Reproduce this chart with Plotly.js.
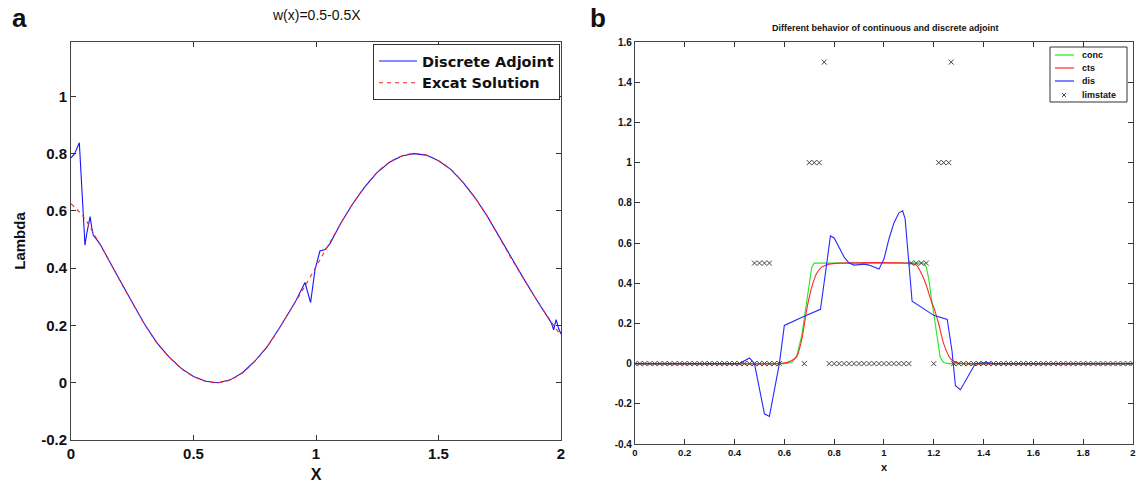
<!DOCTYPE html>
<html>
<head>
<meta charset="utf-8">
<script src="https://cdn.plot.ly/plotly-3.0.1.min.js"></script>
<style>html,body{margin:0;padding:0;background:#fff;}#plot{width:1136px;height:483px;}</style>
</head>
<body>
<div id="plot"></div>
<script>
// ---- Panel a: w(x)=0.5-0.5X ----
const discreteX = [0, 0.015, 0.034, 0.041, 0.046, 0.05, 0.053, 0.057, 0.064, 0.078, 0.084, 0.091, 0.105, 0.118, 0.15, 0.2, 0.25, 0.3, 0.35, 0.4, 0.45, 0.5, 0.55, 0.6, 0.65, 0.7, 0.75, 0.8, 0.85, 0.9, 0.92, 0.955, 0.978, 0.996, 1.016, 1.037, 1.057, 1.1, 1.15, 1.2, 1.25, 1.3, 1.35, 1.4, 1.45, 1.5, 1.55, 1.6, 1.65, 1.7, 1.75, 1.8, 1.85, 1.9, 1.95, 1.96, 1.97, 1.98, 1.99, 2.0];
const discreteY = [0.785, 0.80, 0.838, 0.73, 0.655, 0.58, 0.52, 0.48, 0.52, 0.58, 0.545, 0.515, 0.50, 0.485, 0.435, 0.355, 0.28, 0.205, 0.14, 0.09, 0.05, 0.022, 0.005, 0.0, 0.01, 0.035, 0.075, 0.125, 0.19, 0.26, 0.29, 0.35, 0.28, 0.395, 0.46, 0.465, 0.486, 0.555, 0.625, 0.685, 0.735, 0.77, 0.792, 0.80, 0.795, 0.775, 0.745, 0.70, 0.645, 0.58, 0.505, 0.43, 0.36, 0.29, 0.225, 0.21, 0.185, 0.22, 0.19, 0.17];
const exactX = [0, 0.05, 0.1, 0.15, 0.2, 0.25, 0.3, 0.35, 0.4, 0.45, 0.5, 0.55, 0.6, 0.65, 0.7, 0.75, 0.8, 0.85, 0.9, 0.95, 1.0, 1.05, 1.1, 1.15, 1.2, 1.25, 1.3, 1.35, 1.4, 1.45, 1.5, 1.55, 1.6, 1.65, 1.7, 1.75, 1.8, 1.85, 1.9, 1.95, 2.0];
const exactY = [0.625, 0.58, 0.51, 0.435, 0.355, 0.28, 0.205, 0.14, 0.09, 0.05, 0.022, 0.005, 0.0, 0.01, 0.035, 0.075, 0.125, 0.19, 0.26, 0.33, 0.405, 0.48, 0.555, 0.625, 0.685, 0.735, 0.77, 0.792, 0.80, 0.795, 0.775, 0.745, 0.70, 0.645, 0.58, 0.505, 0.43, 0.36, 0.29, 0.225, 0.165];
const aXTicks = [0, 0.5, 1, 1.5, 2];
const aXTickText = ['0', '0.5', '1', '1.5', '2'];
const aYTicks = [-0.2, 0, 0.2, 0.4, 0.6, 0.8, 1];
const aYTickText = ['-0.2', '0', '0.2', '0.4', '0.6', '0.8', '1'];

// ---- Panel b: continuous vs discrete adjoint ----
const concX = [0, 0.60, 0.63, 0.65, 0.67, 0.69, 0.70, 0.71, 0.72, 1.16, 1.17, 1.18, 1.19, 1.20, 1.213, 1.226, 1.24, 1.26, 2.0];
const concY = [0, 0, 0.005, 0.04, 0.14, 0.31, 0.42, 0.48, 0.50, 0.50, 0.48, 0.42, 0.33, 0.247, 0.147, 0.03, 0.005, 0, 0];
const ctsX = [0, 0.58, 0.61, 0.63, 0.65, 0.67, 0.69, 0.71, 0.73, 0.75, 0.78, 0.82, 1.10, 1.13, 1.15, 1.17, 1.19, 1.20, 1.22, 1.24, 1.267, 1.29, 1.32, 2.0];
const ctsY = [0, 0, 0.005, 0.015, 0.035, 0.12, 0.27, 0.38, 0.45, 0.48, 0.495, 0.50, 0.50, 0.49, 0.45, 0.39, 0.31, 0.28, 0.197, 0.098, 0.025, 0.005, 0, 0];
const disX = [0, 0.42, 0.46, 0.48, 0.52, 0.54, 0.58, 0.60, 0.68, 0.745, 0.765, 0.785, 0.80, 0.82, 0.84, 0.86, 0.88, 0.92, 0.94, 0.98, 1.00, 1.02, 1.04, 1.06, 1.075, 1.085, 1.10, 1.113, 1.20, 1.254, 1.273, 1.287, 1.307, 1.334, 1.367, 1.414, 1.44, 2.0];
const disY = [0, 0, 0.028, 0, -0.25, -0.263, 0, 0.19, 0.235, 0.27, 0.45, 0.635, 0.625, 0.58, 0.53, 0.50, 0.49, 0.495, 0.49, 0.47, 0.52, 0.62, 0.70, 0.75, 0.76, 0.72, 0.50, 0.31, 0.24, 0.22, 0.065, -0.11, -0.13, -0.068, 0, 0.005, 0, 0];
const limX = [0, 0.02, 0.04, 0.06, 0.08, 0.10, 0.12, 0.14, 0.16, 0.18, 0.20, 0.22, 0.24, 0.26, 0.28, 0.30, 0.32, 0.34, 0.36, 0.38, 0.40, 0.42, 0.44, 0.46, 0.48, 0.50, 0.52, 0.54, 0.56, 0.58,
  0.68,
  0.78, 0.80, 0.82, 0.84, 0.86, 0.88, 0.90, 0.92, 0.94, 0.96, 0.98, 1.00, 1.02, 1.04, 1.06, 1.08, 1.10,
  1.20,
  1.28, 1.30, 1.32, 1.34, 1.36, 1.38, 1.40, 1.42, 1.44, 1.46, 1.48, 1.50, 1.52, 1.54, 1.56, 1.58, 1.60, 1.62, 1.64, 1.66, 1.68, 1.70, 1.72, 1.74, 1.76, 1.78, 1.80, 1.82, 1.84, 1.86, 1.88, 1.90, 1.92, 1.94, 1.96, 1.98, 2.00,
  0.48, 0.50, 0.52, 0.54,
  1.11, 1.13, 1.15, 1.17,
  0.70, 0.72, 0.74,
  1.22, 1.24, 1.26,
  0.76, 1.27];
const limY = [0, 0, 0, 0, 0, 0, 0, 0, 0, 0, 0, 0, 0, 0, 0, 0, 0, 0, 0, 0, 0, 0, 0, 0, 0, 0, 0, 0, 0, 0,
  0,
  0, 0, 0, 0, 0, 0, 0, 0, 0, 0, 0, 0, 0, 0, 0, 0, 0,
  0,
  0, 0, 0, 0, 0, 0, 0, 0, 0, 0, 0, 0, 0, 0, 0, 0, 0, 0, 0, 0, 0, 0, 0, 0, 0, 0, 0, 0, 0, 0, 0, 0, 0, 0, 0, 0, 0,
  0.5, 0.5, 0.5, 0.5,
  0.5, 0.5, 0.5, 0.5,
  1, 1, 1,
  1, 1, 1,
  1.5, 1.5];
const bXTicks = [0, 0.2, 0.4, 0.6, 0.8, 1, 1.2, 1.4, 1.6, 1.8, 2];
const bXTickText = ['0', '0.2', '0.4', '0.6', '0.8', '1', '1.2', '1.4', '1.6', '1.8', '2'];
const bYTicks = [-0.4, -0.2, 0, 0.2, 0.4, 0.6, 0.8, 1, 1.2, 1.4, 1.6];
const bYTickText = ['-0.4', '-0.2', '0', '0.2', '0.4', '0.6', '0.8', '1', '1.2', '1.4', '1.6'];
const bLegendNames = ['conc', 'cts', 'dis', 'limstate'];

const FONT = 'Liberation Sans, Arial, Helvetica, sans-serif';
const GREEN = 'rgb(30,235,30)', RED = 'rgb(255,40,40)', BLUE = 'rgb(40,40,255)', GREY = '#444';

const traces = [
  {x: discreteX, y: discreteY, xaxis: 'x', yaxis: 'y', type: 'scatter', mode: 'lines', name: 'Discrete Adjoint',
   line: {color: 'rgb(20,20,255)', width: 1.1}, legend: 'legend'},
  {x: exactX, y: exactY, xaxis: 'x', yaxis: 'y', type: 'scatter', mode: 'lines', name: 'Excat Solution',
   line: {color: RED, width: 1.1, dash: '4px,4px', shape: 'spline'}, legend: 'legend'},
  {x: concX, y: concY, xaxis: 'x2', yaxis: 'y2', type: 'scatter', mode: 'lines', name: bLegendNames[0],
   line: {color: GREEN, width: 1.1}, showlegend: false},
  {x: ctsX, y: ctsY, xaxis: 'x2', yaxis: 'y2', type: 'scatter', mode: 'lines', name: bLegendNames[1],
   line: {color: RED, width: 1.1, shape: 'spline', smoothing: 0.6}, showlegend: false},
  {x: disX, y: disY, xaxis: 'x2', yaxis: 'y2', type: 'scatter', mode: 'lines', name: bLegendNames[2],
   line: {color: BLUE, width: 1.1}, showlegend: false},
  {x: limX, y: limY, xaxis: 'x2', yaxis: 'y2', type: 'scatter', mode: 'markers', name: bLegendNames[3],
   marker: {symbol: 'x-thin', size: 5, color: GREY, line: {color: GREY, width: 1}}, showlegend: false}
];

const axBase = {
  showline: true, mirror: 'ticks', linecolor: '#444', linewidth: 1,
  ticks: 'inside', ticklen: 5, tickcolor: '#333', tickwidth: 1,
  showgrid: false, zeroline: false, tickmode: 'array'
};

// compact legend for panel b, drawn in paper coordinates
const W = 1062, H = 402, L = 71, B = 444; // plot-area geometry in pixels
const px = v => (v - L) / W;
const py = v => (B - v) / H;
const legRows = [55, 68, 81, 95];
const legColors = [GREEN, RED, BLUE];
const shapes = [
  {type: 'rect', xref: 'paper', yref: 'paper', x0: px(1050), x1: px(1127), y0: py(102), y1: py(47),
   line: {color: '#333', width: 1}, fillcolor: '#fff', layer: 'above'}
];
legColors.forEach((c, i) => {
  shapes.push({type: 'line', xref: 'paper', yref: 'paper', x0: px(1055), x1: px(1074), y0: py(legRows[i]), y1: py(legRows[i]),
    line: {color: c, width: 1.2}, layer: 'above'});
});
shapes.push({type: 'line', xref: 'paper', yref: 'paper', x0: px(1062), x1: px(1066), y0: py(legRows[3] - 2), y1: py(legRows[3] + 2),
  line: {color: GREY, width: 1}, layer: 'above'});
shapes.push({type: 'line', xref: 'paper', yref: 'paper', x0: px(1062), x1: px(1066), y0: py(legRows[3] + 2), y1: py(legRows[3] - 2),
  line: {color: GREY, width: 1}, layer: 'above'});

const annotations = [
  {text: 'w(x)=0.5-0.5X', xref: 'paper', yref: 'paper', x: px(316), y: py(15), xanchor: 'center', yanchor: 'middle',
   showarrow: false, font: {size: 14, family: FONT, color: '#111'}},
  {text: 'Different behavior of continuous and discrete adjoint', xref: 'paper', yref: 'paper', x: px(885), y: py(28),
   xanchor: 'center', yanchor: 'middle', showarrow: false, font: {size: 9, weight: 'bold', family: FONT, color: '#111'}},
  {text: 'a', xref: 'paper', yref: 'paper', x: px(19), y: py(18), xanchor: 'center', yanchor: 'middle',
   showarrow: false, font: {size: 26, weight: 'bold', family: FONT, color: '#111'}},
  {text: 'b', xref: 'paper', yref: 'paper', x: px(598), y: py(18), xanchor: 'center', yanchor: 'middle',
   showarrow: false, font: {size: 26, weight: 'bold', family: FONT, color: '#111'}}
];
bLegendNames.forEach((n, i) => {
  annotations.push({text: n, xref: 'paper', yref: 'paper', x: px(1080), y: py(legRows[i]), xanchor: 'left', yanchor: 'middle',
    showarrow: false, font: {size: 9, weight: 'bold', family: FONT, color: '#111'}});
});

const layout = {
  width: 1136, height: 483,
  margin: {l: 71, r: 3, t: 42, b: 39},
  paper_bgcolor: '#fff', plot_bgcolor: '#fff',
  font: {family: FONT, color: '#111'},
  showlegend: true,
  xaxis: Object.assign({}, axBase, {
    domain: [0, 0.4614], range: [0, 2], anchor: 'y',
    tickvals: aXTicks, ticktext: aXTickText,
    tickfont: {size: 15, weight: 'bold', family: FONT, color: '#111'},
    title: {text: 'X', font: {size: 16, weight: 'bold', family: FONT, color: '#111'}, standoff: 8}
  }),
  yaxis: Object.assign({}, axBase, {
    domain: [0.01, 1], range: [-0.2, 1.19], anchor: 'x',
    tickvals: aYTicks, ticktext: aYTickText,
    tickfont: {size: 15, weight: 'bold', family: FONT, color: '#111'},
    title: {text: 'Lambda', font: {size: 15, weight: 'bold', family: FONT, color: '#111'}, standoff: 11}
  }),
  xaxis2: Object.assign({}, axBase, {
    domain: [0.531, 1], range: [0, 2], anchor: 'y2',
    tickvals: bXTicks, ticktext: bXTickText,
    tickfont: {size: 9.5, weight: 'bold', family: FONT, color: '#111'},
    title: {text: 'x', font: {size: 11, weight: 'bold', family: FONT, color: '#111'}, standoff: 5}
  }),
  yaxis2: Object.assign({}, axBase, {
    domain: [0, 1], range: [-0.4, 1.6], anchor: 'x2',
    tickvals: bYTicks, ticktext: bYTickText,
    tickfont: {size: 10, weight: 'bold', family: FONT, color: '#111'}
  }),
  legend: {
    x: px(373), y: py(44), xanchor: 'left', yanchor: 'top',
    bgcolor: '#fff', bordercolor: '#333', borderwidth: 1,
    font: {size: 14.5, weight: 'bold', family: 'DejaVu Sans, Liberation Sans, sans-serif', color: '#111'},
    itemwidth: 38, tracegroupgap: 0
  },
  shapes: shapes,
  annotations: annotations
};

Plotly.newPlot('plot', traces, layout, {displayModeBar: false, staticPlot: true});
</script>
</body>
</html>
